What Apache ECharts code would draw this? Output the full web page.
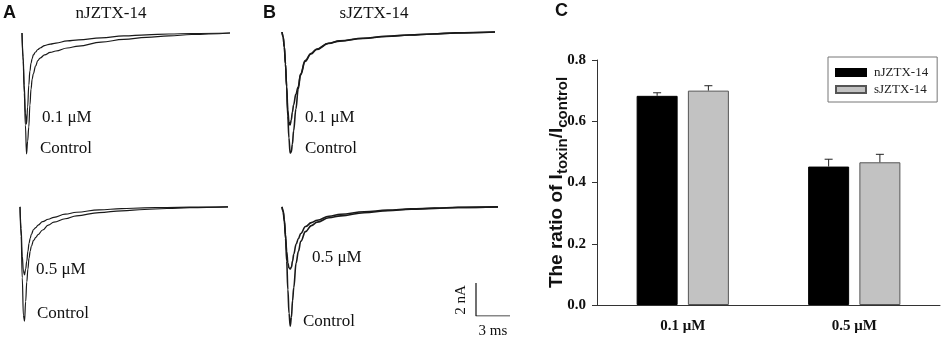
<!DOCTYPE html>
<html>
<head>
<meta charset="utf-8">
<script src="https://cdn.jsdelivr.net/npm/echarts@6/dist/echarts.min.js"></script>
<style>
html, body { margin: 0; padding: 0; background: #fff; }
#main { width: 941px; height: 337px; }
</style>
</head>
<body>
<div id="main"></div>
<script>
// sample times of the current traces (ms)
var traceTime = [0, 0.1, 0.2, 0.3, 0.4, 0.5, 0.6, 0.7, 0.8, 0.9, 1.0, 1.2, 1.4, 1.6, 2.0, 2.5, 3.0, 4.0, 5.0, 7.0, 9.0, 11, 13, 15, 18.4];

// A: nJZTX-14 (nA)
var aCtrlTop = [0, -1.70, -3.64, -5.58, -7.33, -6.55, -5.70, -4.36, -3.39, -2.79, -2.48, -2.00, -1.67, -1.52, -1.33, -1.18, -1.09, -0.91, -0.79, -0.55, -0.39, -0.27, -0.18, -0.09, 0];
var aTox01 = [0, -1.45, -3.15, -4.85, -5.52, -4.48, -3.15, -2.30, -1.82, -1.55, -1.33, -1.15, -1.00, -0.91, -0.76, -0.67, -0.61, -0.48, -0.42, -0.30, -0.18, -0.11, -0.06, -0.03, 0];
var aCtrlBot = [0, -1.82, -4.36, -6.67, -7.03, -5.82, -4.61, -3.82, -3.15, -2.73, -2.42, -2.06, -1.88, -1.70, -1.42, -1.12, -0.94, -0.73, -0.55, -0.35, -0.24, -0.16, -0.10, -0.05, 0];
var aTox05 = [0, -1.33, -3.03, -3.94, -4.18, -3.82, -3.33, -2.73, -2.24, -1.94, -1.70, -1.39, -1.27, -1.12, -0.91, -0.76, -0.64, -0.45, -0.33, -0.18, -0.11, -0.06, -0.04, -0.02, 0];

// B: sJZTX-14 (nA)
var bCtrlTop = [0, -0.30, -0.91, -1.94, -3.33, -5.09, -6.42, -7.33, -7.27, -6.79, -6.00, -4.67, -3.45, -2.61, -1.79, -1.33, -1.06, -0.70, -0.55, -0.39, -0.27, -0.18, -0.12, -0.06, 0];
var bTox01 = [0, -0.30, -0.91, -1.94, -3.27, -4.73, -5.45, -5.64, -5.33, -4.85, -4.42, -3.76, -3.33, -2.55, -1.73, -1.30, -1.03, -0.68, -0.53, -0.38, -0.26, -0.18, -0.12, -0.05, 0];
var bCtrlBot = [0, -0.30, -0.91, -1.94, -3.33, -5.09, -6.55, -7.33, -6.79, -5.76, -4.97, -3.45, -2.73, -2.12, -1.52, -1.15, -0.94, -0.67, -0.55, -0.36, -0.24, -0.15, -0.09, -0.04, 0];
var bTox05 = [0, -0.24, -0.79, -1.70, -2.73, -3.45, -3.76, -3.82, -3.70, -3.33, -2.91, -2.30, -1.94, -1.64, -1.21, -0.97, -0.82, -0.58, -0.45, -0.30, -0.20, -0.12, -0.07, -0.03, 0];

// scale bar
var scaleNA = 2;
var scaleMS = 3;

// C: ratio Itoxin / Icontrol
var barCategories = ['0.1 μM', '0.5 μM'];
var nMean = [0.683, 0.452];
var nErr = [0.010, 0.024];
var sMean = [0.700, 0.466];
var sErr = [0.016, 0.026];

var SERIF = "'Liberation Serif', 'Times New Roman', serif";
var SANS = "'Liberation Sans', Arial, sans-serif";

var BAR_W = 41;
var BAR_GAP = 0.25;

function pairs(t, v) {
	var out = [];
	for (var i = 0; i < t.length; i++) {
		out.push([t[i], v[i]]);
	}
	return out;
}

function traceSeries(idx, values, width) {
	return {
		type: 'line',
		xAxisIndex: idx,
		yAxisIndex: idx,
		data: pairs(traceTime, values),
		showSymbol: false,
		smooth: 0.4,
		smoothMonotone: 'x',
		silent: true,
		lineStyle: { color: '#1a1a1a', width: width }
	};
}

function errorData(mean, err) {
	var out = [];
	for (var i = 0; i < mean.length; i++) {
		out.push([i, mean[i], err[i]]);
	}
	return out;
}

// upper half error bar, drawn at the centre of the bar
function errorSeries(mean, err, side) {
	var offset = side * (BAR_W + BAR_W * BAR_GAP) / 2;
	return {
		type: 'custom',
		xAxisIndex: 5,
		yAxisIndex: 5,
		silent: true,
		z: 5,
		encode: { x: 0, y: 1 },
		data: errorData(mean, err),
		renderItem: function (params, api) {
			var base = api.coord([api.value(0), api.value(1)]);
			var top = api.coord([api.value(0), api.value(1) + api.value(2)]);
			var x = base[0] + offset;
			var st = { stroke: '#222', lineWidth: 1 };
			return {
				type: 'group',
				children: [
					{ type: 'line', shape: { x1: x, y1: base[1], x2: x, y2: top[1] }, style: st },
					{ type: 'line', shape: { x1: x - 4, y1: top[1], x2: x + 4, y2: top[1] }, style: st }
				]
			};
		}
	};
}

function label(text, x, y, opts) {
	opts = opts || {};
	return {
		type: 'text',
		x: x,
		y: y,
		rotation: opts.rotation || 0,
		silent: true,
		style: {
			text: text,
			fill: '#111',
			fontSize: opts.size || 17,
			fontFamily: opts.family || SERIF,
			fontWeight: opts.weight || 'normal',
			align: opts.align || 'left',
			textAlign: opts.align || 'left',
			verticalAlign: 'middle',
			textVerticalAlign: 'middle'
		}
	};
}

var myChart = echarts.init(document.getElementById('main'), null, { renderer: 'canvas' });

// trace panels: about 11.3 px/ms and 16.5 px/nA
var traceGrids = [
	{ left: 22, top: 24.75, width: 208, height: 140.25 },
	{ left: 20, top: 198.75, width: 208, height: 140.25 },
	{ left: 282, top: 23.75, width: 213, height: 140.25 },
	{ left: 282, top: 198.75, width: 216, height: 140.25 }
];

var grids = traceGrids.concat([
	{ left: 476, top: 283, width: 34, height: 33 },
	{ left: 597, top: 60, width: 343, height: 245 }
]);

var xAxes = [];
var yAxes = [];
for (var i = 0; i < 4; i++) {
	xAxes.push({ gridIndex: i, type: 'value', min: 0, max: 18.4, show: false });
	yAxes.push({ gridIndex: i, type: 'value', min: -8, max: 0.5, show: false });
}
xAxes.push({ gridIndex: 4, type: 'value', min: 0, max: scaleMS, show: false });
yAxes.push({ gridIndex: 4, type: 'value', min: 0, max: scaleNA, show: false });

xAxes.push({
	gridIndex: 5,
	type: 'category',
	data: barCategories,
	axisLine: { lineStyle: { color: '#333', width: 1 } },
	axisTick: { alignWithLabel: true, length: 3, lineStyle: { color: '#333' } },
	axisLabel: { margin: 14, color: '#111', fontFamily: SERIF, fontWeight: 'bold', fontSize: 15 }
});
yAxes.push({
	gridIndex: 5,
	type: 'value',
	min: 0,
	max: 0.8,
	interval: 0.2,
	splitLine: { show: false },
	axisLine: { show: true, lineStyle: { color: '#333', width: 1 } },
	axisTick: { show: true, length: 5, lineStyle: { color: '#333' } },
	axisLabel: {
		margin: 11, color: '#111', fontFamily: SERIF, fontWeight: 'bold', fontSize: 15,
		formatter: function (v) { return v.toFixed(1); }
	},
	name: '{m|The ratio of I}{s|toxin}{m|/I}{s|control}',
	nameLocation: 'middle',
	nameRotate: 90,
	nameGap: 27,
	nameMoveOverlap: false,
	nameTextStyle: {
		color: '#111',
		rich: {
			m: { fontSize: 19, fontWeight: 'bold', fontFamily: SANS, color: '#111', lineHeight: 23, verticalAlign: 'top' },
			s: { fontSize: 15, fontWeight: 'bold', fontFamily: SANS, color: '#111', lineHeight: 15, padding: [10, 0, 0, 0], verticalAlign: 'bottom' }
		}
	}
});

var series = [
	traceSeries(0, aCtrlTop, 1.2),
	traceSeries(0, aTox01, 1.2),
	traceSeries(1, aCtrlBot, 1.2),
	traceSeries(1, aTox05, 1.2),
	traceSeries(2, bCtrlTop, 1.6),
	traceSeries(2, bTox01, 1.6),
	traceSeries(3, bCtrlBot, 1.6),
	traceSeries(3, bTox05, 1.6),
	{
		type: 'line',
		xAxisIndex: 4,
		yAxisIndex: 4,
		data: [[0, scaleNA], [0, 0], [scaleMS, 0]],
		showSymbol: false,
		silent: true,
		lineStyle: { color: '#111', width: 1.2 }
	},
	{
		name: 'nJZTX-14',
		type: 'bar',
		xAxisIndex: 5,
		yAxisIndex: 5,
		barWidth: BAR_W,
		barGap: (BAR_GAP * 100) + '%',
		data: nMean,
		itemStyle: { color: '#000', borderColor: '#000', borderWidth: 1 }
	},
	{
		name: 'sJZTX-14',
		type: 'bar',
		xAxisIndex: 5,
		yAxisIndex: 5,
		barWidth: BAR_W,
		barGap: (BAR_GAP * 100) + '%',
		data: sMean,
		itemStyle: { color: '#c2c2c2', borderColor: '#555', borderWidth: 1 }
	},
	errorSeries(nMean, nErr, -1),
	errorSeries(sMean, sErr, 1)
];

var option = {
	animation: false,
	backgroundColor: '#fff',
	grid: grids,
	xAxis: xAxes,
	yAxis: yAxes,
	legend: {
		data: ['nJZTX-14', 'sJZTX-14'],
		orient: 'vertical',
		left: 828,
		top: 57,
		padding: [8, 9, 5, 7],
		itemGap: 2,
		itemWidth: 30,
		itemHeight: 7,
		icon: 'rect',
		borderColor: '#777',
		borderWidth: 1,
		selectedMode: false,
		textStyle: { fontFamily: SERIF, fontSize: 13, color: '#222', lineHeight: 15, padding: [0, 0, 0, 3] }
	},
	series: series,
	graphic: [
		label('A', 3, 13, { family: SANS, weight: 'bold', size: 18 }),
		label('nJZTX-14', 111, 14, { align: 'center' }),
		label('0.1 μM', 42, 118),
		label('Control', 40, 149),
		label('0.5 μM', 36, 270),
		label('Control', 37, 314),
		label('B', 263, 13, { family: SANS, weight: 'bold', size: 18 }),
		label('sJZTX-14', 374, 14, { align: 'center' }),
		label('0.1 μM', 305, 118),
		label('Control', 305, 149),
		label('0.5 μM', 312, 258),
		label('Control', 303, 322),
		label('2 nA', 461, 300, { align: 'center', rotation: Math.PI / 2, size: 15 }),
		label('3 ms', 493, 331, { align: 'center', size: 15 }),
		label('C', 555, 11, { family: SANS, weight: 'bold', size: 18 })
	]
};

myChart.setOption(option);
</script>
</body>
</html>
